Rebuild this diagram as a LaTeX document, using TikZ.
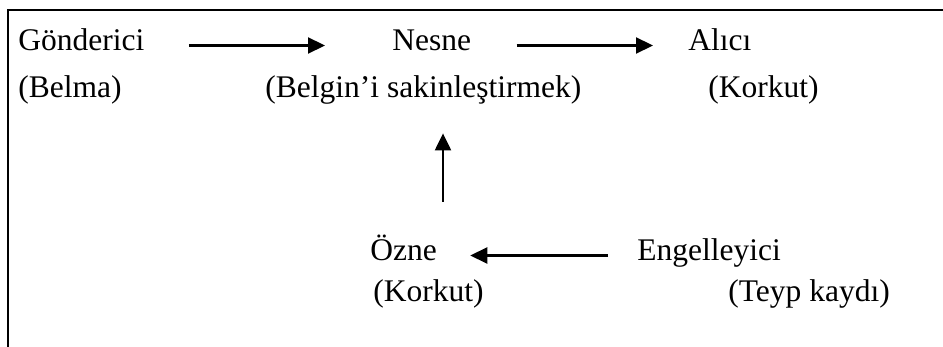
\documentclass[tikz,border=0pt]{standalone}
\usepackage{fontspec}
\setmainfont{Liberation Serif}
\usetikzlibrary{arrows.meta}

\begin{document}
\begin{tikzpicture}[x=0.5pt,y=-0.5pt,
  every node/.style={anchor=base west,inner sep=0pt,text height=9.5pt,text depth=4pt,
    font=\fontsize{15.75}{19}\selectfont},
  every edge/.style={draw,line width=1.1pt},
  >={Triangle[length=8.5pt,width=8pt]}]
  \useasboundingbox (0,0) rectangle (943,347);
  \draw[line width=1.1pt] (8,347) -- (8,10) -- (943,10);

  \node (gonderici) at (18,51) {Gönderici};
  \node (belma) at (18,98) {(Belma)};
  \node (nesne) at (392,51) {Nesne};
  \node (belgin) at (265,98) {(Belgin’i sakinleştirmek)};
  \node (alici) at (688,51) {Alıcı};
  \node (korkut) at (708,98) {(Korkut)};
  \node (ozne) at (370,261) {Özne};
  \node (korkutalt) at (373,302) {(Korkut)};
  \node (engelleyici) at (637,261) {Engelleyici};
  \node (teyp) at (728,302) {(Teyp kaydı)};
  \coordinate (ozneok) at (443,202);

  \path[->]
  (gonderici) edge [shorten <=22pt,shorten >=33.5pt] (nesne)
  (nesne) edge [shorten <=22.5pt,shorten >=17.5pt] (alici)
  (engelleyici) edge [shorten <=14.5pt,shorten >=16.5pt] (ozne)
  (ozneok) edge [shorten >=13.5pt] (ozneok |- belgin.south);
\end{tikzpicture}
\end{document}
